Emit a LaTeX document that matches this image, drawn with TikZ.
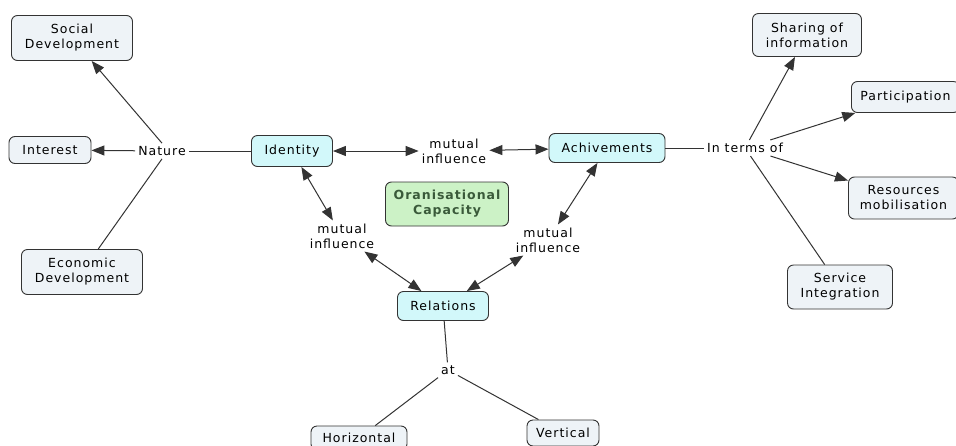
\documentclass[tikz,border=0pt]{standalone}
\usepackage{fontspec}
\setmainfont[LetterSpace=8]{DejaVu Sans}
\usetikzlibrary{arrows.meta}
\definecolor{grayfill}{HTML}{EEF3F7}
\definecolor{cyanfill}{HTML}{D2F8FA}
\definecolor{greenfill}{HTML}{CCF2C6}
\definecolor{greentext}{HTML}{3A5A3A}
\definecolor{edge}{HTML}{333333}
\tikzset{
  box/.style={draw=edge, line width=0.9pt, rounded corners=6pt, fill=grayfill, align=center,
    font=\fontsize{12.5}{15}\selectfont, inner xsep=5pt, inner ysep=3pt},
  cbox/.style={box, fill=cyanfill},
  gbox/.style={box, fill=greenfill, font=\fontsize{12.5}{15}\selectfont\bfseries, text=greentext},
  lbl/.style={align=center, font=\fontsize{12.5}{15}\selectfont, inner sep=3pt},
  con/.style={draw=edge, line width=1pt},
  arr/.style={con, -{Triangle[length=13pt,width=10pt]}},
  darr/.style={con, {Triangle[length=13pt,width=10pt]}-{Triangle[length=13pt,width=10pt]}},
}
\begin{document}
\begin{tikzpicture}[x=1pt,y=-1pt]
\useasboundingbox (0,0) rectangle (956,445);
\clip (0,0) rectangle (956,445);
\fill[white] (0,0) rectangle (956,445);
% nodes
\node[box, minimum width=121pt, minimum height=45pt] (soc) at (72,38) {Social\\Development};
\node[box, minimum width=82pt, minimum height=27pt] (int) at (50,150) {Interest};
\node[box, minimum width=121pt, minimum height=45pt] (eco) at (82,272) {Economic\\Development};
\node[lbl] (nat) at (162,151) {Nature};
\node[cbox, minimum width=81pt, minimum height=31pt] (ide) at (292,151) {Identity};
\node[lbl] (mt) at (454,151) {mutual\\influence};
\node[cbox, minimum width=116pt, minimum height=29pt] (ach) at (607,148) {Achivements};
\node[gbox, minimum width=123pt, minimum height=44pt] (org) at (447,204) {Oranisational\\Capacity};
\node[lbl] (ml) at (342,236) {mutual\\influence};
\node[lbl] (mr) at (548,240) {mutual\\influence};
\node[cbox, minimum width=91pt, minimum height=29pt] (rel) at (443,306) {Relations};
\node[lbl] (at) at (448,370) {at};
\node[box, minimum width=96pt, minimum height=24pt] (hor) at (359,438) {Horizontal};
\node[box, minimum width=72pt, minimum height=26pt] (ver) at (563,433) {Vertical};
\node[lbl] (itf) at (745,148) {In terms of};
\node[box, minimum width=109pt, minimum height=43pt] (sha) at (807,35) {Sharing of\\information};
\node[box, minimum width=108pt, minimum height=31pt, anchor=west] (par) at (851,97) {Participation};
\node[box, minimum width=110pt, minimum height=42pt, anchor=west] (res) at (848,198) {Resources\\mobilisation};
\node[box, minimum width=105pt, minimum height=44pt] (ser) at (840,287) {Service\\Integration};
% connectors
\draw[arr] (nat.north) -- (soc);
\draw[arr] (nat) -- (int);
\draw[con] (nat.south) -- (eco);
\draw[con] (ide) -- (nat);
\draw[darr] (ide) -- (mt);
\draw[darr] (mt) -- (ach);
\draw[darr] (ide) -- (ml);
\draw[darr] (ml) -- (rel);
\draw[darr] (ach) -- (mr);
\draw[darr] (mr) -- (rel);
\draw[con] (rel) -- (at);
\draw[con] (at) -- (hor);
\draw[con] (at) -- (ver);
\draw[con] (ach) -- (itf);
\draw[arr] (itf) -- (sha);
\draw[arr] (itf) -- (par);
\draw[arr] (itf) -- (res);
\draw[con] (itf) -- (ser);
\end{tikzpicture}
\end{document}
